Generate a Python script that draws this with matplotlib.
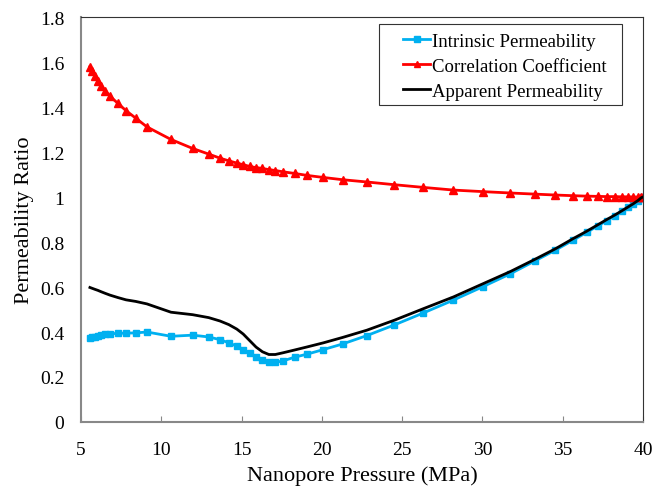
import matplotlib
matplotlib.use("Agg")
import matplotlib.pyplot as plt
from matplotlib.patches import Rectangle

plt.rcParams['font.family'] = ['Liberation Serif', 'DejaVu Serif']

# Nanopore pressure (MPa) at each computed step
pressure = [5.55, 5.7, 5.85, 6.05, 6.25, 6.5, 6.8, 7.3, 7.8, 8.4,
            9.1, 10.6, 11.95, 12.95, 13.65, 14.2, 14.7, 15.1, 15.5, 15.9,
            16.3, 16.7, 17.1, 17.6, 18.3, 19.1, 20.1, 21.3, 22.8, 24.5,
            26.3, 28.2, 30.05, 31.75, 33.27, 34.55, 35.65, 36.5, 37.2, 37.75,
            38.25, 38.67, 39.08, 39.4, 39.7, 39.9, 40.0]

intrinsic = [0.373, 0.376, 0.379, 0.383, 0.386, 0.389, 0.392, 0.394, 0.395, 0.396,
             0.400, 0.381, 0.386, 0.378, 0.366, 0.352, 0.337, 0.322, 0.306, 0.290,
             0.277, 0.267, 0.265, 0.272, 0.288, 0.302, 0.322, 0.347, 0.384, 0.431,
             0.484, 0.542, 0.602, 0.659, 0.716, 0.764, 0.808, 0.843, 0.872, 0.895,
             0.917, 0.936, 0.954, 0.969, 0.984, 0.996, 1.0]

correlation = [1.580, 1.559, 1.538, 1.517, 1.495, 1.472, 1.448, 1.416, 1.384, 1.351,
               1.312, 1.256, 1.216, 1.191, 1.173, 1.161, 1.151, 1.144, 1.136, 1.131,
               1.127, 1.122, 1.118, 1.112, 1.105, 1.096, 1.087, 1.077, 1.067, 1.055,
               1.043, 1.031, 1.024, 1.018, 1.013, 1.009, 1.006, 1.004, 1.003, 1.002,
               1.002, 1.001, 1.001, 1.000, 1.000, 1.000, 1.0]

apparent = [0.598, 0.594, 0.590, 0.585, 0.579, 0.572, 0.564, 0.553, 0.543, 0.536,
            0.525, 0.488, 0.477, 0.464, 0.449, 0.433, 0.413, 0.391, 0.362, 0.333,
            0.312, 0.300, 0.300, 0.308, 0.320, 0.334, 0.352, 0.376, 0.408, 0.452,
            0.503, 0.556, 0.615, 0.669, 0.723, 0.770, 0.815, 0.848, 0.877, 0.900,
            0.920, 0.938, 0.956, 0.970, 0.985, 0.997, 1.0]

fig = plt.figure(figsize=(6.54, 4.89), dpi=100)
ax = fig.add_axes([0.124, 0.135, 0.859, 0.828])

ax.plot(pressure, intrinsic, color='#00b0f0', marker='s', markersize=5,
        linewidth=2, label='Intrinsic Permeability')
ax.plot(pressure, correlation, color='#ff0000', marker='^', markersize=5.5,
        linewidth=2, label='Correlation Coefficient')
ax.plot(pressure, apparent, color='black', linewidth=2,
        label='Apparent Permeability')

ax.set_xlim(5, 40)
ax.set_ylim(0, 1.8)
ax.set_xticks(range(5, 41, 5))
ax.set_yticks([0, 0.2, 0.4, 0.6, 0.8, 1, 1.2, 1.4, 1.6, 1.8])
ax.set_yticklabels(['0', '0.2', '0.4', '0.6', '0.8', '1', '1.2', '1.4', '1.6', '1.8'])

ax.tick_params(axis='x', direction='in', length=4, color='#888888',
               labelsize=14, pad=14)
ax.tick_params(axis='y', length=0, labelsize=14, pad=12)

for side in ['left', 'bottom']:
    ax.spines[side].set_color('#888888')
    ax.spines[side].set_linewidth(1.5)
for side in ['top', 'right']:
    ax.spines[side].set_color('#333333')
    ax.spines[side].set_linewidth(0.8)

ax.set_xlabel('Nanopore Pressure (MPa)', fontsize=16, labelpad=5)
ax.set_ylabel('Permeability Ratio', fontsize=16, labelpad=4)

# legend entries without frame, box drawn separately with wider side margins
leg = ax.legend(loc='upper left', bbox_to_anchor=(0.573, 0.961), fontsize=13.5,
                handlelength=1.45, handletextpad=0.1, borderpad=0,
                borderaxespad=0, labelspacing=0.42, frameon=False,
                markerscale=0.8)
ax.add_patch(Rectangle((0.530, 0.783), 0.433, 0.200, transform=ax.transAxes,
                       facecolor='none', edgecolor='#333333', linewidth=0.8,
                       zorder=5))

fig.savefig('out.png', dpi=100)
